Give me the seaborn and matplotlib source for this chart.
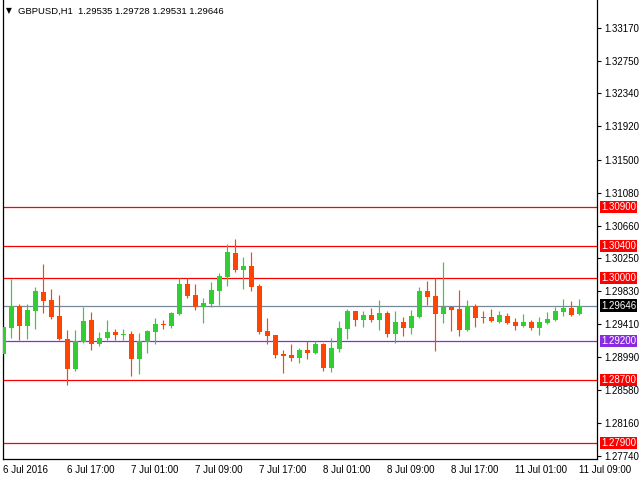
import matplotlib
matplotlib.use("Agg")
import numpy as np
import pandas as pd
import seaborn as sns
import matplotlib.pyplot as plt

# ---------------- data ----------------
opens = [1.29031, 1.29361, 1.29640, 1.29387, 1.29573, 1.29814, 1.29712, 1.29509, 1.29217, 1.28837,
         1.29184, 1.29459, 1.29158, 1.29234, 1.29306, 1.29277, 1.29281, 1.28964, 1.29184, 1.29306,
         1.29412, 1.29382, 1.29535, 1.29915, 1.29776, 1.29628, 1.29666, 1.29831, 1.30004, 1.30309,
         1.30097, 1.30144, 1.29890, 1.29319, 1.29268, 1.29027, 1.29014, 1.28981, 1.29078, 1.29040,
         1.29154, 1.28854, 1.29091, 1.29344, 1.29573, 1.29459, 1.29522, 1.29459, 1.29547, 1.29285,
         1.29433, 1.29361, 1.29497, 1.29827, 1.29763, 1.29535, 1.29624, 1.29598, 1.29332, 1.29636,
         1.29501, 1.29497, 1.29433, 1.29509, 1.29433, 1.29382, 1.29433, 1.29357, 1.29420, 1.29459,
         1.29560, 1.29611, 1.29535]
highs = [1.29399, 1.29979, 1.29670, 1.29670, 1.29877, 1.30169, 1.29852, 1.29776, 1.29332, 1.29332,
         1.29624, 1.29560, 1.29306, 1.29459, 1.29344, 1.29344, 1.29319, 1.29294, 1.29332, 1.29484,
         1.29459, 1.29560, 1.30000, 1.30000, 1.29915, 1.29738, 1.29941, 1.30055, 1.30423, 1.30486,
         1.30258, 1.30321, 1.29915, 1.29484, 1.29268, 1.29078, 1.29154, 1.29103, 1.29192, 1.29192,
         1.29167, 1.29230, 1.29446, 1.29598, 1.29573, 1.29573, 1.29611, 1.29712, 1.29573, 1.29573,
         1.29497, 1.29585, 1.29877, 1.29953, 1.29992, 1.30195, 1.29636, 1.29839, 1.29712, 1.29662,
         1.29573, 1.29598, 1.29573, 1.29547, 1.29484, 1.29535, 1.29459, 1.29497, 1.29560, 1.29624,
         1.29725, 1.29700, 1.29728]
lows = [1.28917, 1.29234, 1.29205, 1.29217, 1.29349, 1.29547, 1.29471, 1.29205, 1.28638, 1.28816,
        1.29167, 1.29078, 1.29133, 1.29209, 1.29205, 1.29205, 1.28752, 1.28778, 1.29044, 1.29154,
        1.29344, 1.29357, 1.29522, 1.29738, 1.29585, 1.29425, 1.29628, 1.29649, 1.29894, 1.30068,
        1.29852, 1.29831, 1.29281, 1.29154, 1.28976, 1.28786, 1.28943, 1.28917, 1.28964, 1.29027,
        1.28816, 1.28803, 1.29052, 1.29217, 1.29382, 1.29370, 1.29433, 1.29332, 1.29247, 1.29171,
        1.29260, 1.29285, 1.29484, 1.29649, 1.29065, 1.29420, 1.29319, 1.29256, 1.29330, 1.29370,
        1.29420, 1.29433, 1.29430, 1.29418, 1.29332, 1.29380, 1.29332, 1.29268, 1.29408, 1.29446,
        1.29509, 1.29509, 1.29531]
closes = [1.29370, 1.29645, 1.29387, 1.29585, 1.29827, 1.29700, 1.29497, 1.29217, 1.28837, 1.29196,
          1.29446, 1.29158, 1.29239, 1.29306, 1.29268, 1.29285, 1.28964, 1.29196, 1.29319, 1.29408,
          1.29399, 1.29547, 1.29915, 1.29767, 1.29628, 1.29674, 1.29839, 1.30017, 1.30321, 1.30093,
          1.30144, 1.29882, 1.29306, 1.29256, 1.29014, 1.29002, 1.28981, 1.29078, 1.29040, 1.29154,
          1.28854, 1.29103, 1.29357, 1.29573, 1.29459, 1.29522, 1.29459, 1.29547, 1.29285, 1.29433,
          1.29361, 1.29509, 1.29827, 1.29750, 1.29535, 1.29624, 1.29585, 1.29332, 1.29636, 1.29484,
          1.29492, 1.29446, 1.29522, 1.29420, 1.29382, 1.29433, 1.29357, 1.29433, 1.29471, 1.29573,
          1.29611, 1.29522, 1.29646]

time_tick_labels = ["6 Jul 2016", "6 Jul 17:00", "7 Jul 01:00", "7 Jul 09:00", "7 Jul 17:00",
                    "8 Jul 01:00", "8 Jul 09:00", "8 Jul 17:00", "11 Jul 01:00", "11 Jul 09:00"]
price_ticks = [1.33170, 1.32750, 1.32340, 1.31920, 1.31500, 1.31080, 1.30660, 1.30250,
               1.29830, 1.29410, 1.28990, 1.28580, 1.28160, 1.27740]
red_levels = [1.30900, 1.30400, 1.30000, 1.28700, 1.27900]
support_level = 1.29200
current_price = 1.29646
title_text = "GBPUSD,H1  1.29535 1.29728 1.29531 1.29646"

# ---------------- styling ----------------
sns.set_theme(style="white")
plt.rcParams['font.family'] = ['Liberation Sans', 'DejaVu Sans']

UP = "#32CD32"
DOWN = "#FF4500"

df = pd.DataFrame({"open": opens, "high": highs, "low": lows, "close": closes})
df["x"] = np.arange(len(df))
df["up"] = df["close"] >= df["open"]
df["color"] = np.where(df["up"], UP, DOWN)
df["bottom"] = df[["open", "close"]].min(axis=1)
df["height"] = (df["close"] - df["open"]).abs().clip(lower=0.00012)

fig = plt.figure(figsize=(6.4, 4.8), dpi=100)
fig.patch.set_facecolor("white")
ax = fig.add_axes([2.5 / 640, 21 / 480, 594.5 / 640, 459 / 480])
ax.set_facecolor("white")

# horizontal levels
for lv in red_levels:
    ax.axhline(lv, color="#FF0000", linewidth=0.9, zorder=1)
ax.axhline(support_level, color="#8A2BE2", linewidth=0.9, zorder=1)
ax.axhline(current_price, color="#778899", linewidth=0.9, zorder=1)

# candles
ax.vlines(df["x"], df["low"], df["high"], colors=df["color"], linewidth=0.85, zorder=2)
ax.bar(df["x"], df["height"], bottom=df["bottom"], width=0.64, color=df["color"],
       linewidth=0, zorder=3)

ax.set_xlim(-0.1, 74.2)
ax.set_ylim(1.27700, 1.33525)

# axes / ticks
ax.yaxis.tick_right()
ax.set_yticks(price_ticks)
ax.set_yticklabels([f"{p:.5f}" for p in price_ticks])
ax.set_xticks(np.arange(0, len(df), 8))
ax.set_xticklabels(time_tick_labels, ha="left")
ax.tick_params(axis="both", direction="out", length=3, width=0.8, color="black",
               labelsize=7, labelcolor="black")
ax.tick_params(axis="y", pad=2)
ax.tick_params(axis="x", pad=1)
for lab in ax.get_xticklabels():
    lab.set_horizontalalignment("left")
ax.grid(False)
for side in ["left", "right", "bottom"]:
    ax.spines[side].set_color("black")
    ax.spines[side].set_linewidth(0.9)
ax.spines["top"].set_visible(False)

# price-level labels on the right axis
def level_label(price, face):
    ax.annotate(f"{price:.5f}", xy=(1, price), xycoords=("axes fraction", "data"),
                xytext=(4, 0), textcoords="offset pixels", ha="left", va="center",
                fontsize=7, color="white", annotation_clip=False, zorder=10,
                bbox=dict(boxstyle="square,pad=0.12", facecolor=face, edgecolor="none"))

for lv in red_levels:
    level_label(lv, "#FF0000")
level_label(support_level, "#8A2BE2")
level_label(current_price, "black")

# title
fig.text(6 / 640, 1 - 11 / 480, "\u25BC", fontsize=5.5, family=["DejaVu Sans"],
         va="center", ha="left", color="black")
fig.text(18 / 640, 1 - 11 / 480, title_text, fontsize=6.8, va="center", ha="left",
         color="black")

fig.savefig("out.png", dpi=100)
